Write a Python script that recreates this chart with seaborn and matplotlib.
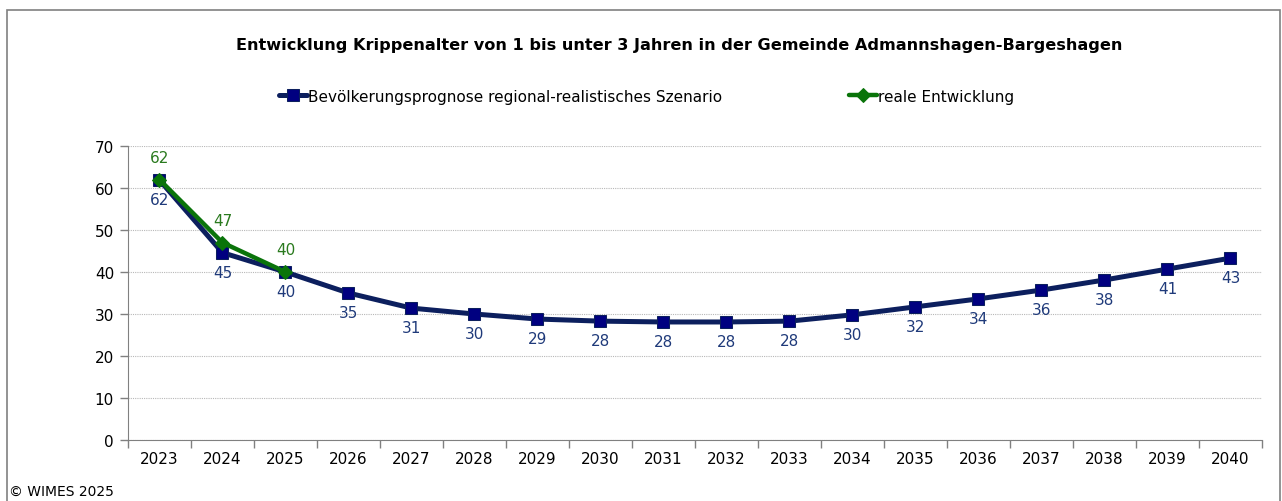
import matplotlib
matplotlib.use("Agg")
import matplotlib.pyplot as plt
import matplotlib.patches as patches
from matplotlib.ticker import MultipleLocator
import pandas as pd
import seaborn as sns

# Daten
jahre = list(range(2023, 2041))
prognose = [61.9, 44.6, 40.0, 35.0, 31.4, 30.0, 28.8, 28.3, 28.1, 28.1, 28.3,
            29.8, 31.7, 33.6, 35.7, 38.1, 40.7, 43.3]
jahre_real = [2023, 2024, 2025]
real = [62, 47, 40]

titel = "Entwicklung Krippenalter von 1 bis unter 3 Jahren in der Gemeinde Admannshagen-Bargeshagen"
name_prognose = "Bevölkerungsprognose regional-realistisches Szenario"
name_real = "reale Entwicklung"

blau_linie = "#0c1f5e"
blau_marker = "#000080"
blau_text = "#1f3a7a"
gruen = "#0a740a"
gruen_text = "#2a7a1e"

df_p = pd.DataFrame({"Jahr": jahre, "Wert": prognose})
df_r = pd.DataFrame({"Jahr": jahre_real, "Wert": real})

sns.set_style("white")
plt.rcParams["font.family"] = ["DejaVu Sans"]
plt.rcParams["text.color"] = "black"
plt.rcParams["xtick.color"] = "#808080"
plt.rcParams["ytick.color"] = "#808080"
plt.rcParams["xtick.labelcolor"] = "black"
plt.rcParams["ytick.labelcolor"] = "black"

fig = plt.figure(figsize=(12.82, 5.02), dpi=100)
ax = fig.add_axes([0.0998, 0.1215, 0.8846, 0.5857])

sns.lineplot(data=df_p, x="Jahr", y="Wert", ax=ax, color=blau_linie, lw=3.6,
             marker="s", markersize=9, markerfacecolor=blau_marker,
             markeredgecolor=blau_linie, label=name_prognose)
sns.lineplot(data=df_r, x="Jahr", y="Wert", ax=ax, color=gruen, lw=3.2,
             marker="D", markersize=7, markerfacecolor=gruen,
             markeredgecolor=gruen, label=name_real)

# Datenbeschriftungen
for j, v in zip(jahre, prognose):
    ax.annotate(f"{v:.0f}", (j, v), xytext=(0, -14), textcoords="offset points",
                ha="center", va="center", fontsize=11, color=blau_text)
for j, v in zip(jahre_real, real):
    ax.annotate(f"{v}", (j, v), xytext=(0, 16), textcoords="offset points",
                ha="center", va="center", fontsize=11, color=gruen_text)

ax.set_xlim(2022.5, 2040.5)
ax.set_ylim(0, 70)
ax.set_xticks(jahre)
ax.set_xticklabels([str(j) for j in jahre], fontsize=11)
ax.xaxis.set_minor_locator(MultipleLocator(1, offset=0.5))
ax.tick_params(axis="x", which="major", length=0, pad=8, bottom=True)
ax.tick_params(axis="x", which="minor", length=6, width=1, bottom=True)
ax.set_yticks(range(0, 71, 10))
ax.tick_params(axis="y", length=6, width=1, labelsize=11, pad=4, left=True)
ax.set_xlabel("")
ax.set_ylabel("")
ax.grid(axis="y", color="#b8b8b8", linestyle=(0, (1, 1)), linewidth=0.8)
ax.set_axisbelow(True)
for s in ["top", "right"]:
    ax.spines[s].set_visible(False)
ax.spines["left"].set_color("#808080")
ax.spines["bottom"].set_color("#808080")

leg = ax.legend(loc="center left", bbox_to_anchor=(0.128, 1.17), ncol=2,
                frameon=False, fontsize=11, handlelength=1.8, handletextpad=0.1,
                columnspacing=8.3, borderaxespad=0)

fig.text(0.53, 0.91, titel, ha="center", va="center", fontsize=11.6, fontweight="bold")
fig.text(0.007, 0.02, "© WIMES 2025", ha="left", va="center", fontsize=10)

rahmen = patches.Rectangle((0.0055, -0.05), 0.993, 1.028, transform=fig.transFigure,
                           fill=False, edgecolor="#808080", linewidth=1.2)
fig.patches.append(rahmen)

fig.savefig("out.png", dpi=100)
